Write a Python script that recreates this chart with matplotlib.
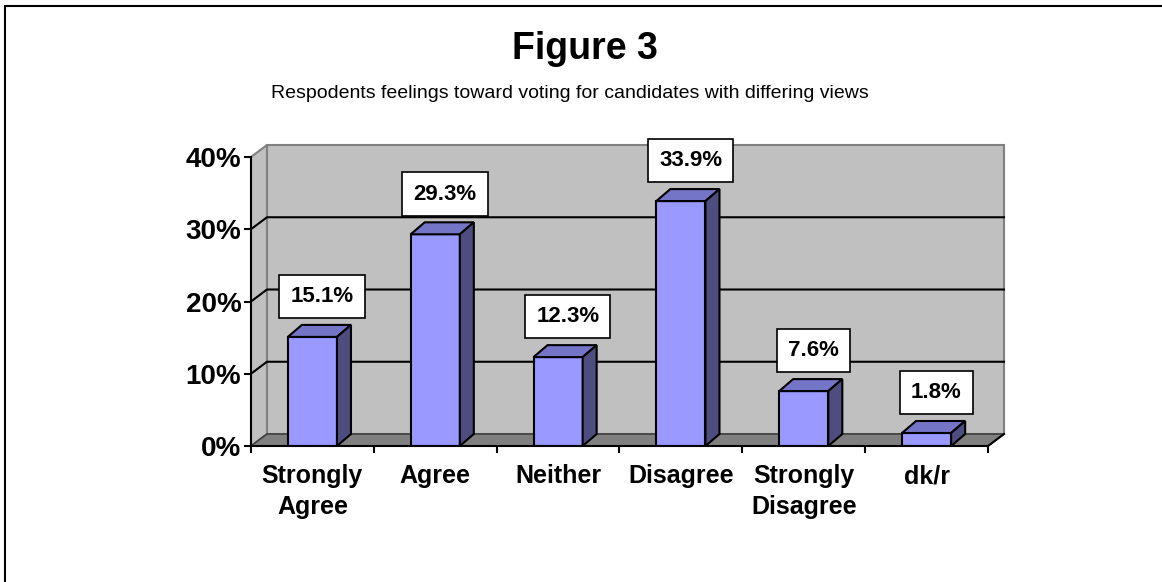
import matplotlib.pyplot as plt
from matplotlib.patches import Polygon, Rectangle

# данные
categories = ['Strongly\nAgree', 'Agree', 'Neither', 'Disagree', 'Strongly\nDisagree', 'dk/r']
values = [15.1, 29.3, 12.3, 33.9, 7.6, 1.8]
yticks = [0, 10, 20, 30, 40]

plt.rcParams['font.family'] = ['Liberation Sans', 'DejaVu Sans']

fig = plt.figure(figsize=(11.62, 5.82), dpi=100)
ax = fig.add_axes([251 / 1162, 136 / 582, 737 / 1162, 289 / 582])
ax.set_xlim(-0.5, len(values) - 0.5)
ax.set_ylim(0, 40)

# смещение "глубины" для псевдо-3D
dx, dy = 0.13, 1.66
bdx, bdy = 0.114, 1.66
bw = 0.4
x0, x1 = -0.5, len(values) - 0.5

# стенки и пол
ax.add_patch(Polygon([(x0 + dx, dy), (x1 + dx, dy), (x1 + dx, 40 + dy), (x0 + dx, 40 + dy)],
                     facecolor='#C0C0C0', edgecolor='#808080', lw=1.5, clip_on=False, zorder=0))
ax.add_patch(Polygon([(x0, 0), (x0 + dx, dy), (x0 + dx, 40 + dy), (x0, 40)],
                     facecolor='#C0C0C0', edgecolor='#808080', lw=1.5, clip_on=False, zorder=0))
ax.add_patch(Polygon([(x0, 0), (x1, 0), (x1 + dx, dy), (x0 + dx, dy)],
                     facecolor='#808080', edgecolor='#404040', lw=1.2, clip_on=False, zorder=1))

# сетка
for v in yticks[1:-1]:
    ax.plot([x0, x0 + dx, x1 + dx], [v, v + dy, v + dy], color='black', lw=1.5,
            clip_on=False, zorder=1)
ax.plot([x1, x1 + dx], [0, dy], color='black', lw=1.5, clip_on=False, zorder=2)

# столбцы
xs = list(range(len(values)))
ax.bar(xs, values, width=bw, color='#9999FF', edgecolor='black', lw=1.5, zorder=3)
for x, v in zip(xs, values):
    l, r = x - bw / 2, x + bw / 2
    ax.add_patch(Polygon([(l, v), (r, v), (r + bdx, v + bdy), (l + bdx, v + bdy)],
                         facecolor='#7575C8', edgecolor='black', lw=1.5, zorder=3, clip_on=False))
    ax.add_patch(Polygon([(r, 0), (r + bdx, bdy), (r + bdx, v + bdy), (r, v)],
                         facecolor='#4D4D80', edgecolor='black', lw=1.5, zorder=3, clip_on=False))
    ax.annotate(f'{v:.1f}%', (x, v), xytext=(7, 29), textcoords='offset points',
                ha='center', va='center', fontsize=16, fontweight='bold', zorder=5,
                bbox=dict(boxstyle='square,pad=0.5', facecolor='white', edgecolor='black', lw=1.2),
                annotation_clip=False)

# оси
for s in ['top', 'right']:
    ax.spines[s].set_visible(False)
for s in ['left', 'bottom']:
    ax.spines[s].set_linewidth(1.5)
    ax.spines[s].set_zorder(4)
ax.set_facecolor('none')
ax.set_yticks(yticks)
ax.set_yticklabels([f'{v}%' for v in yticks], fontsize=20, fontweight='bold')
ax.tick_params(axis='y', length=5, width=1.5, pad=2)
ax.set_xticks(xs)
ax.set_xticklabels(categories, fontsize=18, fontweight='bold', linespacing=1.35)
ax.tick_params(axis='x', which='major', length=0, pad=13)
ax.set_xticks([i - 0.5 for i in range(len(values) + 1)], minor=True)
ax.tick_params(axis='x', which='minor', length=5, width=1.5)

# заголовки
fig.text(0.503, 1 - 49 / 582, 'Figure 3', ha='center', va='center', fontsize=27, fontweight='bold')
fig.text(0.49, 1 - 94 / 582, 'Respodents feelings toward voting for candidates with differing views',
         ha='center', va='center', fontsize=14)

# рамка
fig.add_artist(Rectangle((4.5 / 1162, -0.1), 1.2, 1.1 - 5.5 / 582, transform=fig.transFigure,
                         fill=False, edgecolor='black', lw=1.5))

fig.savefig('out.png', dpi=100)
